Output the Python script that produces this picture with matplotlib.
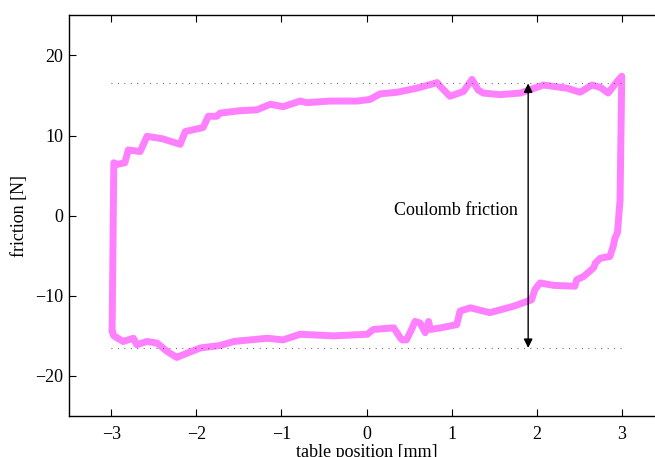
import matplotlib
matplotlib.use('Agg')
import matplotlib.pyplot as plt
import numpy as np

plt.rcParams['font.family'] = ['Liberation Serif', 'DejaVu Serif']
plt.rcParams['font.size'] = 13

# upper branch (moving right)
x_up = [-2.99, -2.98, -2.97, -2.93, -2.84, -2.80, -2.66, -2.58, -2.40, -2.19,
        -2.13, -1.92, -1.86, -1.76, -1.72, -1.48, -1.29, -1.13, -0.98, -0.78,
        -0.70, -0.43, -0.11, 0.04, 0.16, 0.36, 0.59, 0.83, 0.87, 0.98,
        1.14, 1.24, 1.31, 1.37, 1.57, 1.81, 2.08, 2.36, 2.51, 2.65,
        2.75, 2.84, 2.95, 3.00]
f_up = [-14.4, -4.0, 6.6, 6.4, 6.6, 8.2, 8.0, 9.9, 9.6, 8.9,
        10.5, 11.0, 12.4, 12.4, 12.8, 13.1, 13.2, 13.9, 13.6, 14.3,
        14.1, 14.3, 14.3, 14.5, 15.2, 15.4, 15.9, 16.6, 16.1, 14.9,
        15.5, 17.0, 15.7, 15.3, 15.1, 15.3, 16.3, 15.9, 15.4, 16.3,
        16.0, 15.3, 16.8, 17.4]

# lower branch (moving left)
x_down = [2.98, 2.95, 2.92, 2.90, 2.86, 2.75, 2.69, 2.67, 2.55, 2.47,
          2.45, 2.20, 2.04, 1.98, 1.94, 1.73, 1.45, 1.22, 1.10, 1.06,
          0.87, 0.75, 0.73, 0.69, 0.63, 0.57, 0.53, 0.47, 0.42, 0.40,
          0.32, 0.08, 0.01, -0.39, -0.78, -0.98, -1.17, -1.56, -1.72, -1.95,
          -2.19, -2.23, -2.35, -2.46, -2.58, -2.70, -2.74, -2.86, -2.97, -2.99]
f_down = [2.0, -2.1, -2.8, -3.8, -5.1, -5.3, -5.9, -6.5, -7.6, -8.0,
          -8.8, -8.7, -8.4, -9.2, -10.5, -11.3, -12.1, -11.5, -11.9, -13.6,
          -14.0, -14.2, -13.2, -14.6, -13.4, -13.2, -14.2, -15.5, -15.5, -15.3,
          -14.0, -14.2, -14.8, -15.0, -14.8, -15.5, -15.3, -15.7, -16.2, -16.5,
          -17.5, -17.7, -16.9, -15.9, -15.7, -16.1, -15.3, -15.7, -15.0, -14.4]

coulomb = 16.5
arrow_x = 1.9

fig = plt.figure(figsize=(6.55, 4.57), dpi=100)
ax = fig.add_axes([0.1049, 0.0897, 0.9093, 0.8768])

ax.plot(x_up + x_down, f_up + f_down, color='#ff80ff', lw=5,
        solid_joinstyle='round', solid_capstyle='round')

ax.plot([-3, 3], [coulomb, coulomb], color='#555555', lw=0.8, dashes=(0.8, 5))
ax.plot([-3, 3], [-coulomb, -coulomb], color='#555555', lw=0.8, dashes=(0.8, 5))

ax.annotate('', xy=(arrow_x, coulomb), xytext=(arrow_x, -coulomb),
            arrowprops=dict(arrowstyle='<|-|>', color='k', lw=1,
                            mutation_scale=13, shrinkA=0, shrinkB=0))
ax.text(1.78, 0.6, 'Coulomb friction', ha='right', va='center', fontsize=13)

ax.set_xlim(-3.5, 3.5)
ax.set_ylim(-25, 25)
ax.set_xticks([-3, -2, -1, 0, 1, 2, 3])
ax.set_yticks([-20, -10, 0, 10, 20])
ax.tick_params(direction='in', length=5, width=0.8, top=True, right=False)
ax.tick_params(axis='x', pad=7)
ax.tick_params(axis='y', pad=4)
for s in ax.spines.values():
    s.set_linewidth(1.0)
ax.spines['right'].set_visible(False)

ax.set_xlabel('table position [mm]', labelpad=1)
ax.set_ylabel('friction [N]', labelpad=5)

fig.savefig('out.png', dpi=100)
